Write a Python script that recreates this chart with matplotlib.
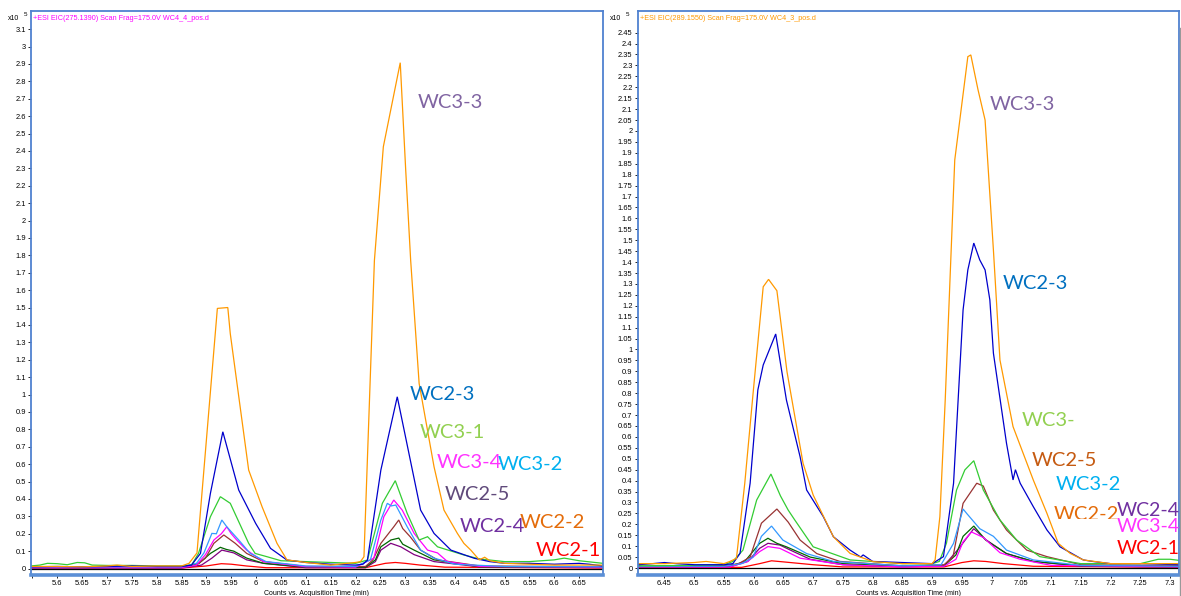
import numpy as np
import matplotlib
matplotlib.use("Agg")
import matplotlib.pyplot as plt
from matplotlib.lines import Line2D
from matplotlib.patches import Rectangle

plt.rcParams['font.family'] = ['Liberation Sans', 'DejaVu Sans']

# ---------------- Left panel data (x10^5 counts vs min) ----------------
L_title = "+ESI EIC(275.1390) Scan Frag=175.0V WC4_4_pos.d"
L_xticks = [5.55, 5.6, 5.65, 5.7, 5.75, 5.8, 5.85, 5.9, 5.95, 6.0, 6.05, 6.1, 6.15, 6.2,
            6.25, 6.3, 6.35, 6.4, 6.45, 6.5, 6.55, 6.6, 6.65]
L_yticks = [round(0.1 * i, 1) for i in range(32)]

L_orange_t = [5.547, 5.60, 5.65, 5.70, 5.72, 5.75, 5.80, 5.85, 5.865, 5.881, 5.922, 5.943, 5.948,
              5.985, 6.012, 6.042, 6.062, 6.10, 6.15, 6.20, 6.21, 6.217, 6.238, 6.256, 6.290,
              6.301, 6.311, 6.328, 6.358, 6.378, 6.405, 6.418, 6.432, 6.449, 6.46, 6.47, 6.50,
              6.55, 6.60, 6.65, 6.698]
L_orange_v = [0.012, 0.012, 0.01, 0.015, 0.02, 0.012, 0.015, 0.015, 0.03, 0.09, 1.495, 1.50, 1.35,
              0.566, 0.355, 0.145, 0.05, 0.035, 0.02, 0.035, 0.04, 0.068, 1.77, 2.424, 2.907,
              2.29, 1.77, 1.064, 0.585, 0.336, 0.202, 0.145, 0.106, 0.05, 0.065, 0.045, 0.03,
              0.025, 0.02, 0.02, 0.02]

L_blue_t = [5.547, 5.60, 5.65, 5.70, 5.75, 5.80, 5.85, 5.87, 5.888, 5.908, 5.933, 5.965, 5.999,
            6.029, 6.062, 6.10, 6.15, 6.20, 6.215, 6.224, 6.251, 6.284, 6.331, 6.358, 6.392,
            6.439, 6.47, 6.50, 6.55, 6.60, 6.65, 6.67, 6.698]
L_blue_v = [0.01, 0.012, 0.01, 0.012, 0.015, 0.012, 0.012, 0.02, 0.087, 0.432, 0.786, 0.451, 0.26,
            0.116, 0.049, 0.035, 0.025, 0.02, 0.025, 0.049, 0.566, 0.987, 0.336, 0.202, 0.106,
            0.059, 0.04, 0.03, 0.03, 0.025, 0.03, 0.025, 0.015]

L_green_t = [5.547, 5.565, 5.58, 5.60, 5.62, 5.64, 5.655, 5.67, 5.70, 5.75, 5.80, 5.85, 5.87,
             5.884, 5.908, 5.928, 5.948, 5.985, 5.998, 6.022, 6.05, 6.10, 6.15, 6.20, 6.224,
             6.254, 6.28, 6.304, 6.328, 6.345, 6.365, 6.418, 6.45, 6.50, 6.55, 6.60, 6.62,
             6.65, 6.698]
L_green_v = [0.015, 0.02, 0.03, 0.028, 0.022, 0.035, 0.033, 0.02, 0.018, 0.018, 0.015, 0.015, 0.02,
             0.087, 0.298, 0.413, 0.375, 0.145, 0.087, 0.068, 0.045, 0.04, 0.035, 0.03, 0.049,
             0.375, 0.505, 0.317, 0.164, 0.183, 0.125, 0.078, 0.055, 0.04, 0.04, 0.05, 0.06,
             0.045, 0.03]

L_lblue_t = [5.547, 5.70, 5.85, 5.88, 5.895, 5.911, 5.92, 5.931, 5.941, 5.965, 5.988, 6.02, 6.10,
             6.20, 6.23, 6.251, 6.264, 6.272, 6.281, 6.304, 6.331, 6.358, 6.40, 6.50, 6.698]
L_lblue_v = [0.01, 0.01, 0.01, 0.03, 0.09, 0.202, 0.2, 0.279, 0.24, 0.164, 0.087, 0.04, 0.015,
             0.012, 0.05, 0.279, 0.375, 0.36, 0.365, 0.24, 0.106, 0.06, 0.025, 0.012, 0.01]

L_magenta_t = [5.547, 5.85, 5.88, 5.898, 5.915, 5.93, 5.941, 5.95, 5.961, 5.981, 6.015, 6.10, 6.20,
               6.237, 6.257, 6.277, 6.294, 6.318, 6.345, 6.365, 6.385, 6.45, 6.698]
L_magenta_v = [0.005, 0.005, 0.02, 0.08, 0.164, 0.2, 0.24, 0.2, 0.164, 0.106, 0.04, 0.01, 0.008,
               0.06, 0.298, 0.394, 0.336, 0.202, 0.106, 0.09, 0.04, 0.012, 0.008]

L_brown_t = [5.547, 5.85, 5.88, 5.898, 5.915, 5.935, 5.958, 5.981, 6.015, 6.10, 6.22, 6.235, 6.251,
             6.277, 6.287, 6.295, 6.31, 6.331, 6.365, 6.45, 6.698]
L_brown_v = [0.008, 0.008, 0.02, 0.06, 0.145, 0.193, 0.145, 0.087, 0.04, 0.012, 0.012, 0.05, 0.145,
             0.24, 0.279, 0.23, 0.183, 0.106, 0.05, 0.015, 0.01]

L_dgreen_t = [5.547, 5.85, 5.885, 5.908, 5.928, 5.94, 5.955, 5.981, 6.015, 6.10, 6.22, 6.24, 6.251,
              6.271, 6.287, 6.295, 6.318, 6.358, 6.45, 6.698]
L_dgreen_v = [0.005, 0.005, 0.03, 0.087, 0.122, 0.11, 0.1, 0.06, 0.03, 0.008, 0.008, 0.05, 0.125,
              0.164, 0.175, 0.14, 0.106, 0.05, 0.01, 0.008]

L_purple_t = [5.547, 5.85, 5.89, 5.911, 5.931, 5.955, 5.981, 6.015, 6.10, 6.22, 6.24, 6.251, 6.271,
              6.291, 6.318, 6.358, 6.45, 6.698]
L_purple_v = [0.003, 0.003, 0.02, 0.06, 0.106, 0.09, 0.05, 0.03, 0.005, 0.005, 0.04, 0.106, 0.145,
              0.125, 0.08, 0.04, 0.01, 0.005]

L_red_t = [5.547, 5.85, 5.90, 5.93, 5.95, 5.98, 6.02, 6.22, 6.26, 6.28, 6.30, 6.33, 6.38, 6.698]
L_red_v = [0.003, 0.003, 0.015, 0.028, 0.025, 0.015, 0.005, 0.005, 0.03, 0.035, 0.03, 0.02, 0.008,
           0.003]

L_black_t = [5.547, 6.698]
L_black_v = [0.0, 0.0]

L_labels = ["WC3-3", "WC2-3", "WC3-1", "WC3-4", "WC3-2", "WC2-5", "WC2-4", "WC2-2", "WC2-1"]

# ---------------- Right panel data ----------------
R_title = "+ESI EIC(289.1550) Scan Frag=175.0V WC4_3_pos.d"
R_xticks = [6.45, 6.5, 6.55, 6.6, 6.65, 6.7, 6.75, 6.8, 6.85, 6.9, 6.95, 7.0, 7.05, 7.1, 7.15,
            7.2, 7.25, 7.3]
R_yticks = [round(0.05 * i, 2) for i in range(50)]

R_orange_t = [6.405, 6.45, 6.50, 6.52, 6.55, 6.56, 6.571, 6.585, 6.599, 6.616, 6.625, 6.639, 6.656,
              6.683, 6.70, 6.734, 6.762, 6.801, 6.85, 6.90, 6.905, 6.913, 6.922, 6.938, 6.96,
              6.965, 6.977, 6.989, 7.003, 7.014, 7.036, 7.07, 7.093, 7.112, 7.132, 7.154, 7.20,
              7.25, 7.315]
R_orange_v = [0.02, 0.02, 0.025, 0.03, 0.02, 0.03, 0.044, 0.388, 0.8, 1.287, 1.321, 1.269, 0.898,
              0.479, 0.334, 0.143, 0.067, 0.029, 0.02, 0.02, 0.037, 0.235, 0.77, 1.867, 2.34,
              2.348, 2.19, 2.05, 1.455, 0.952, 0.647, 0.403, 0.25, 0.113, 0.067, 0.037, 0.02,
              0.02, 0.02]

R_blue_t = [6.405, 6.43, 6.45, 6.47, 6.50, 6.55, 6.565, 6.577, 6.594, 6.607, 6.616, 6.637, 6.655,
            6.678, 6.689, 6.717, 6.734, 6.762, 6.78, 6.784, 6.80, 6.85, 6.90, 6.919, 6.936, 6.952,
            6.96, 6.97, 6.98, 6.989, 6.997, 7.003, 7.025, 7.036, 7.04, 7.048, 7.07, 7.093, 7.115,
            7.154, 7.17, 7.20, 7.25, 7.315]
R_blue_v = [0.015, 0.02, 0.025, 0.02, 0.015, 0.015, 0.02, 0.067, 0.388, 0.815, 0.929, 1.071, 0.769,
            0.509, 0.357, 0.235, 0.143, 0.082, 0.05, 0.06, 0.03, 0.025, 0.02, 0.052, 0.388, 1.181,
            1.364, 1.487, 1.41, 1.364, 1.227, 0.983, 0.571, 0.403, 0.45, 0.388, 0.281, 0.174,
            0.097, 0.037, 0.03, 0.02, 0.02, 0.015]

R_green_t = [6.405, 6.50, 6.55, 6.565, 6.582, 6.605, 6.629, 6.645, 6.658, 6.669, 6.70, 6.762, 6.85,
             6.90, 6.912, 6.924, 6.941, 6.955, 6.97, 6.986, 7.014, 7.042, 7.081, 7.15, 7.25, 7.28,
             7.30, 7.315]
R_green_v = [0.01, 0.012, 0.015, 0.03, 0.082, 0.311, 0.43, 0.33, 0.265, 0.22, 0.097, 0.037, 0.02,
             0.02, 0.03, 0.113, 0.357, 0.449, 0.491, 0.357, 0.22, 0.128, 0.052, 0.02, 0.02, 0.04,
             0.04, 0.035]

R_brown_t = [6.405, 6.55, 6.575, 6.594, 6.613, 6.639, 6.658, 6.678, 6.706, 6.745, 6.85, 6.92, 6.935,
             6.952, 6.975, 6.986, 7.003, 7.025, 7.059, 7.093, 7.15, 7.315]
R_brown_v = [0.008, 0.01, 0.02, 0.05, 0.205, 0.27, 0.21, 0.128, 0.066, 0.03, 0.01, 0.015, 0.05,
             0.296, 0.388, 0.375, 0.265, 0.174, 0.082, 0.052, 0.015, 0.01]

R_lblue_t = [6.405, 6.55, 6.58, 6.599, 6.613, 6.63, 6.649, 6.689, 6.734, 6.85, 6.915, 6.936, 6.952,
             6.958, 6.98, 7.003, 7.025, 7.07, 7.15, 7.315]
R_lblue_v = [0.008, 0.008, 0.02, 0.05, 0.145, 0.192, 0.128, 0.066, 0.03, 0.01, 0.015, 0.113, 0.27,
             0.25, 0.18, 0.145, 0.082, 0.037, 0.012, 0.008]

R_dgreen_t = [6.405, 6.56, 6.585, 6.61, 6.624, 6.639, 6.655, 6.695, 6.75, 6.85, 6.92, 6.94, 6.952,
              6.97, 6.99, 7.025, 7.07, 7.15, 7.315]
R_dgreen_v = [0.005, 0.008, 0.03, 0.113, 0.136, 0.113, 0.097, 0.05, 0.02, 0.008, 0.01, 0.06, 0.145,
              0.192, 0.128, 0.066, 0.03, 0.01, 0.005]

R_purple_t = [6.405, 6.56, 6.59, 6.61, 6.624, 6.644, 6.667, 6.695, 6.75, 6.85, 6.92, 6.945, 6.97,
              6.99, 7.025, 7.07, 7.15, 7.315]
R_purple_v = [0.005, 0.005, 0.03, 0.09, 0.113, 0.105, 0.075, 0.04, 0.015, 0.005, 0.01, 0.09, 0.18,
              0.13, 0.066, 0.03, 0.008, 0.005]

R_magenta_t = [6.405, 6.56, 6.59, 6.61, 6.624, 6.644, 6.678, 6.75, 6.85, 6.92, 6.94, 6.952, 6.966,
               6.986, 7.014, 7.048, 7.10, 7.315]
R_magenta_v = [0.005, 0.005, 0.03, 0.075, 0.098, 0.09, 0.045, 0.015, 0.005, 0.008, 0.04, 0.12,
               0.165, 0.14, 0.07, 0.04, 0.012, 0.005]

R_red_t = [6.405, 6.58, 6.61, 6.63, 6.65, 6.70, 6.75, 6.92, 6.95, 6.97, 6.99, 7.02, 7.07, 7.315]
R_red_v = [0.003, 0.003, 0.02, 0.033, 0.028, 0.015, 0.005, 0.005, 0.025, 0.033, 0.03, 0.02, 0.008,
           0.003]

R_black_t = [6.405, 7.315]
R_black_v = [0.0, 0.0]

R_labels = ["WC3-3", "WC2-3", "WC3-", "WC2-5", "WC3-2", "WC2-2", "WC2-4", "WC3-4", "WC2-1"]

# ---------------- styling ----------------
C = dict(orange='#FF9900', blue='#0000CC', green='#33CC33', lblue='#3399FF', magenta='#FF00FF',
         brown='#993333', dgreen='#006600', purple='#800080', red='#FF0000', black='#000000')
LBL_COL = {"WC3-3": '#8064A2', "WC2-3": '#0070C0', "WC3-1": '#92D050', "WC3-": '#92D050',
           "WC3-4": '#FF33FF', "WC3-2": '#00B0F0', "WC2-5": '#604A7B', "WC2-4": '#7030A0',
           "WC2-2": '#E46C0A', "WC2-1": '#FF0000'}
FRAME = '#4F81D0'

W, H = 1181, 596
fig = plt.figure(figsize=(W / 100, H / 100), dpi=100)


def px(x, y):
    return x / W, 1 - y / H


def make_axes(rect, xlim, ylim, xticks, yticks, title, title_col, series):
    ax = fig.add_axes(rect)
    order = ['black', 'red', 'purple', 'dgreen', 'brown', 'magenta', 'lblue', 'green', 'blue', 'orange']
    for name in order:
        t, v = series[name]
        ax.plot(t, v, color=C[name], lw=0.9, solid_joinstyle='miter')
    ax.set_xlim(*xlim)
    ax.set_ylim(*ylim)
    ax.set_xticks(xticks)
    ax.set_xticklabels(['' if abs(x - 5.55) < 1e-9 else '%g' % x for x in xticks])
    ax.set_yticks(yticks)
    ax.set_yticklabels(['%g' % y for y in yticks])
    ax.tick_params(axis='both', direction='out', length=2.5, width=0.6, labelsize=5.4, pad=1.2,
                   color='black')
    for s in ['top', 'right', 'left']:
        ax.spines[s].set_color(FRAME)
        ax.spines[s].set_linewidth(1.3)
    ax.spines['bottom'].set_color('#5B8FD6')
    ax.spines['bottom'].set_linewidth(2.6)
    ax.text(0.004, 0.993, title, transform=ax.transAxes, ha='left', va='top', fontsize=5.2,
            color=title_col)
    ax.set_xlabel('Counts vs. Acquisition Time (min)', fontsize=5, labelpad=2)
    return ax


L_series = dict(orange=(L_orange_t, L_orange_v), blue=(L_blue_t, L_blue_v),
                green=(L_green_t, L_green_v), lblue=(L_lblue_t, L_lblue_v),
                magenta=(L_magenta_t, L_magenta_v), brown=(L_brown_t, L_brown_v),
                dgreen=(L_dgreen_t, L_dgreen_v), purple=(L_purple_t, L_purple_v),
                red=(L_red_t, L_red_v), black=(L_black_t, L_black_v))
R_series = dict(orange=(R_orange_t, R_orange_v), blue=(R_blue_t, R_blue_v),
                green=(R_green_t, R_green_v), lblue=(R_lblue_t, R_lblue_v),
                magenta=(R_magenta_t, R_magenta_v), brown=(R_brown_t, R_brown_v),
                dgreen=(R_dgreen_t, R_dgreen_v), purple=(R_purple_t, R_purple_v),
                red=(R_red_t, R_red_v), black=(R_black_t, R_black_v))

axL = make_axes([31 / W, 21 / H, (603 - 31) / W, (575 - 11) / H],
                (5.547, 6.698), (-0.037, 3.204), L_xticks, L_yticks, L_title, '#FF00FF', L_series)
axR = make_axes([637.7 / W, 21 / H, (1179 - 637.7) / W, (575 - 11) / H],
                (6.405, 7.315), (-0.032, 2.549), R_xticks, R_yticks, R_title, '#FF9900', R_series)

# x10^5 multipliers
for x0 in (8, 610):
    fig.text(*px(x0, 19), 'x10', fontsize=5, ha='left', va='center')
    fig.text(*px(x0 + 16, 15), '5', fontsize=4.5, ha='left', va='center')

# sample labels (pixel anchor: left, vertical centre)
L_label_pos = [(418, 103), (410, 395), (420, 432), (437, 462), (498, 465), (445, 495),
               (460, 526), (520, 522), (536, 550)]
R_label_pos = [(990, 104), (1003, 283), (1022, 421), (1032, 461), (1056, 485), (1054, 515),
               (1117, 510), (1117, 526), (1117, 548)]
R_label_col = {"WC2-5": '#C55A11'}

for lab, (x, y) in zip(L_labels, L_label_pos):
    fig.text(*px(x, y), lab, family='Lato', fontsize=14.5, color=LBL_COL[lab],
             ha='left', va='center', zorder=5)
for lab, (x, y) in zip(R_labels, R_label_pos):
    col = R_label_col.get(lab, LBL_COL[lab])
    z = 6 if lab in ("WC2-4", "WC3-4", "WC2-1") else 5
    fs = 14.0 if lab in ("WC2-4", "WC3-4", "WC2-1") else 14.5
    txt = fig.text(*px(x, y), lab, family='Lato', fontsize=fs, color=col,
                   ha='left', va='center', zorder=z)
    if lab == "WC2-2":
        clip = Rectangle((0, 1 - 519 / H), 1, 1, transform=fig.transFigure)
        txt.set_clip_path(clip)

fig.add_artist(Line2D([1180 / W, 1180 / W], [0.0, 1 - 28 / H], color='#999999', lw=1.0))

fig.savefig('out.png', dpi=100)
